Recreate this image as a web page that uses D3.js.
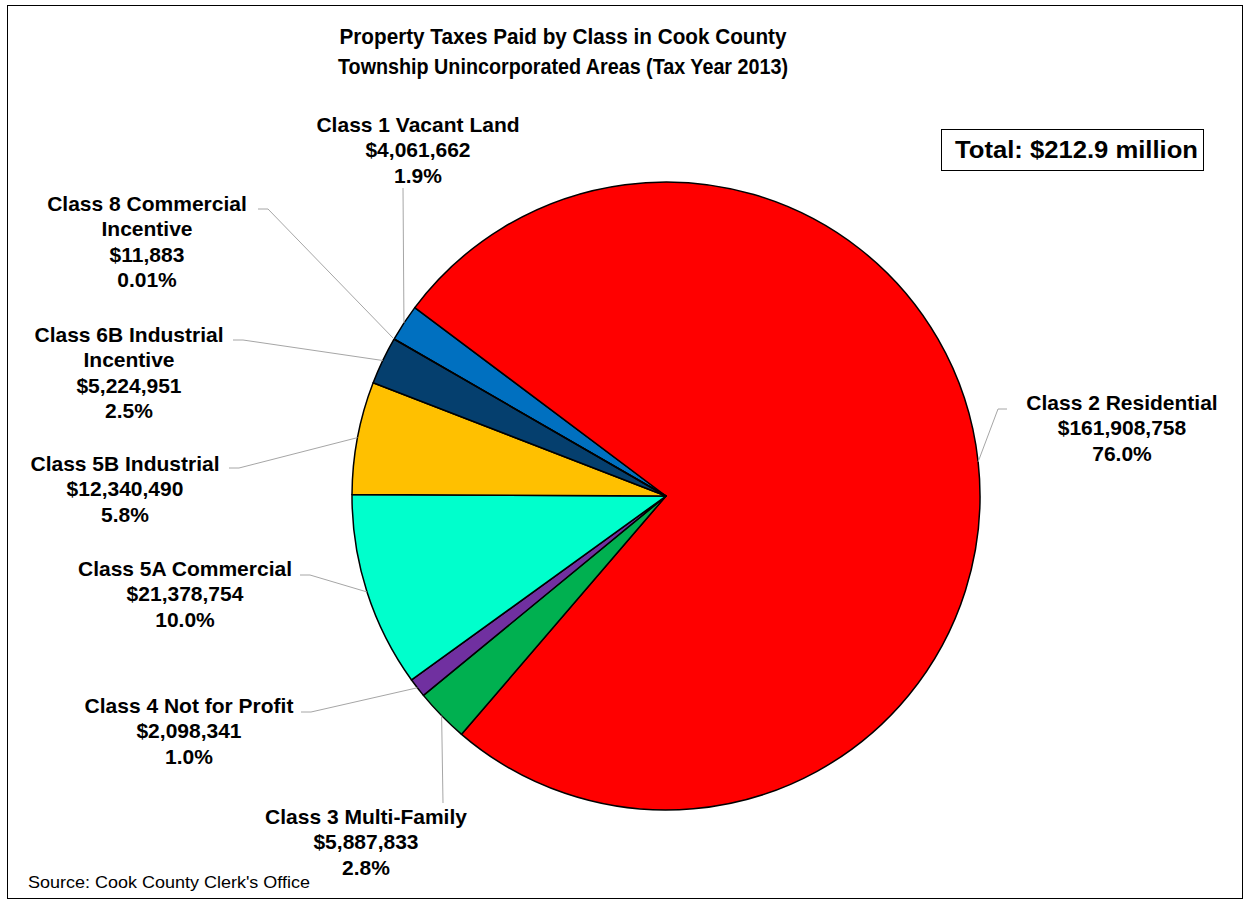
<!DOCTYPE html>
<html>
<head>
<meta charset="utf-8">
<script src="https://cdn.jsdelivr.net/npm/d3@7"></script>
<style>
  html, body { margin: 0; padding: 0; background: #fff; }
  svg { display: block; font-family: "Liberation Sans", Arial, sans-serif; }
</style>
</head>
<body>
<svg id="chart" width="1250" height="904"></svg>
<script>
// Property tax classes (label lines) and taxes paid, tax year 2013
const categoryLines = [
  ["Class 1 Vacant Land"],
  ["Class 2 Residential"],
  ["Class 3 Multi-Family"],
  ["Class 4 Not for Profit"],
  ["Class 5A Commercial"],
  ["Class 5B Industrial"],
  ["Class 6B Industrial", "Incentive"],
  ["Class 8 Commercial", "Incentive"]
];
const taxesPaid = [4061662, 161908758, 5887833, 2098341, 21378754, 12340490, 5224951, 11883];
const sliceColors = ["#0070C0", "#FF0000", "#00B050", "#7030A0", "#00FFCC", "#FFC000", "#053F6E", "#F4B183"];

const titleLines = ["Property Taxes Paid by Class in Cook County",
                    "Township Unincorporated Areas (Tax Year 2013)"];
const sourceNote = "Source: Cook County Clerk's Office";

// Label placement: first baseline and leader anchor points (leader ends on the slice's mid-arc)
const labelLayout = [
  { x: 418,  y: 132, leader: [[403, 188]] },
  { x: 1122, y: 410, leader: [[1007, 409], [998, 409]] },
  { x: 366,  y: 824, leader: [[443, 803]] },
  { x: 189,  y: 713, leader: [[301, 712], [311, 712]] },
  { x: 185,  y: 576, leader: [[300, 575], [310, 575]] },
  { x: 125,  y: 471, leader: [[229, 468], [239, 468]] },
  { x: 129,  y: 342, leader: [[233, 340], [243, 340]] },
  { x: 147,  y: 211, leader: [[258, 209], [268, 209]] }
];

const W = 1250, H = 904;
const cx = 666, cy = 496, R = 314;
const lineGap = 25.4;

const svg = d3.select("#chart");

// chart frame
svg.append("rect")
  .attr("x", 7.5).attr("y", 5.5).attr("width", 1235).attr("height", 893)
  .attr("fill", "#fff").attr("stroke", "#000").attr("stroke-width", 1);

// title
svg.append("g").selectAll("text").data(titleLines).join("text")
  .attr("x", 563).attr("y", (d, i) => 44 + i * 30)
  .attr("text-anchor", "middle")
  .attr("font-size", 22.5).attr("font-weight", "bold")
  .attr("textLength", (d, i) => [447, 450][i])
  .attr("lengthAdjust", "spacingAndGlyphs")
  .text(d => d);

const total = d3.sum(taxesPaid);
const fmtMoney = d3.format("$,");
const fmtPct = v => (v / total < 0.001 ? d3.format(".2%") : d3.format(".1%"))(v / total);

const pie = d3.pie().sort(null)
  .startAngle(-60 * Math.PI / 180)
  .endAngle(300 * Math.PI / 180)
  .value(d => d);
const arcs = pie(taxesPaid);
const arc = d3.arc().innerRadius(0).outerRadius(R);

const pieG = svg.append("g").attr("transform", `translate(${cx},${cy})`);
pieG.selectAll("path").data(arcs).join("path")
  .attr("d", arc)
  .attr("fill", (d, i) => sliceColors[i])
  .attr("stroke", "#000").attr("stroke-width", 1.5)
  .attr("stroke-linejoin", "round");

// leader lines from labels to the middle of each slice's outer edge
const line = d3.line();
svg.append("g").selectAll("path").data(arcs).join("path")
  .attr("d", (d, i) => {
    const a = (d.startAngle + d.endAngle) / 2;
    const end = [cx + R * Math.sin(a), cy - R * Math.cos(a)];
    return line([...labelLayout[i].leader, end]);
  })
  .attr("fill", "none").attr("stroke", "#A6A6A6").attr("stroke-width", 1);

// data labels: name, dollars, share
const labelG = svg.append("g");
arcs.forEach((d, i) => {
  const lines = [...categoryLines[i], fmtMoney(taxesPaid[i]), fmtPct(taxesPaid[i])];
  labelG.append("text")
    .attr("text-anchor", "middle")
    .attr("font-size", 21).attr("font-weight", "bold").attr("fill", "#000")
    .selectAll("tspan").data(lines).join("tspan")
    .attr("x", labelLayout[i].x)
    .attr("y", (t, k) => labelLayout[i].y + k * lineGap)
    .text(t => t);
});

// total box
svg.append("rect")
  .attr("x", 941.5).attr("y", 129.5).attr("width", 262).attr("height", 41)
  .attr("fill", "#fff").attr("stroke", "#000").attr("stroke-width", 1);
svg.append("text")
  .attr("x", 955).attr("y", 158)
  .attr("font-size", 24).attr("font-weight", "bold")
  .attr("textLength", 243).attr("lengthAdjust", "spacingAndGlyphs")
  .text("Total: " + d3.format("$.1f")(total / 1e6) + " million");

// source note
svg.append("text")
  .attr("x", 28).attr("y", 888)
  .attr("font-size", 17)
  .attr("textLength", 282).attr("lengthAdjust", "spacingAndGlyphs")
  .text(sourceNote);
</script>
</body>
</html>
